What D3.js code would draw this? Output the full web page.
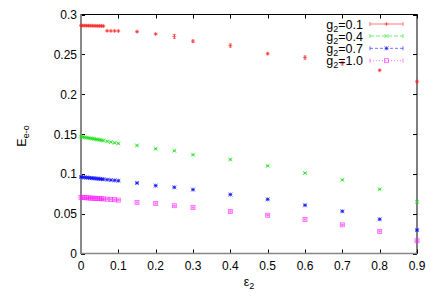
<!DOCTYPE html>
<html><head><meta charset="utf-8">
<script src="https://cdn.jsdelivr.net/npm/d3@7"></script>
<style>body{margin:0;background:#fff}svg{display:block}text{font-family:"Liberation Sans",Arial,sans-serif;}</style>
</head><body>
<script>
const eps = [0,0.005,0.01,0.015,0.02,0.025,0.03,0.035,0.04,0.045,0.05,0.055,0.06,0.07,0.08,0.09,0.1,0.15,0.2,0.25,0.3,0.4,0.5,0.6,0.7,0.8,0.9];
const g01 = [0.2862,0.2860,0.2861,0.2859,0.2860,0.2858,0.2859,0.2857,0.2858,0.2856,0.2857,0.2856,0.2855,0.2795,0.2794,0.2794,0.2793,0.2785,0.2755,0.2725,0.2665,0.2610,0.2508,0.2460,0.2385,0.2300,0.2158];
const g01err = [0.001,0.001,0.001,0.001,0.001,0.001,0.001,0.001,0.001,0.001,0.001,0.001,0.001,0.001,0.001,0.001,0.001,0.001,0.0008,0.0025,0.0015,0.002,0.0012,0.002,0.002,0.001,0.0015];
const g04 = [0.1466,0.1462,0.1458,0.1454,0.1450,0.1446,0.1442,0.1438,0.1434,0.1430,0.1426,0.1422,0.1418,0.1408,0.1398,0.1390,0.1382,0.1356,0.1315,0.1290,0.1240,0.1180,0.1100,0.1010,0.0925,0.0806,0.0648];
const g07 = [0.0960,0.0958,0.0955,0.0953,0.0951,0.0948,0.0946,0.0944,0.0941,0.0939,0.0937,0.0934,0.0932,0.0927,0.0922,0.0918,0.0913,0.0885,0.0852,0.0831,0.0802,0.0740,0.0680,0.0606,0.0530,0.0430,0.0294];
const g10 = [0.0704,0.0702,0.0701,0.0699,0.0698,0.0696,0.0695,0.0693,0.0692,0.0690,0.0689,0.0687,0.0686,0.0682,0.0679,0.0676,0.0670,0.0640,0.0627,0.0600,0.0577,0.0527,0.0480,0.0427,0.0360,0.0277,0.0160];
const smallErr = 0.0007;
const xTicks = [0,0.1,0.2,0.3,0.4,0.5,0.6,0.7,0.8,0.9];
const yTicks = [0,0.05,0.1,0.15,0.2,0.25,0.3];
const seriesNames = ["0.1","0.4","0.7","1.0"];
const seriesColors = ["#ff2020","#10e010","#1010ff","#ff20ff"];
const seriesVals = [g01,g04,g07,g10];
const seriesMarks = ["plus","cross","star","square"];
const seriesDash = [null,"4,2","3,2","1,2"];

const W=436,H=305;
const svg=d3.select("body").append("svg").attr("width",W).attr("height",H);
const x=d3.scaleLinear().domain([0,0.9]).range([81,417]);
const y=d3.scaleLinear().domain([0,0.3]).range([253.5,14.5]);

svg.append("rect").attr("x",81).attr("y",14.5).attr("width",336).attr("height",239)
  .attr("fill","none").attr("stroke","#000").attr("stroke-width",1);

const tl=4;
xTicks.forEach(t=>{
  const px=Math.round(x(t))+0.5;
  svg.append("line").attr("x1",px).attr("x2",px).attr("y1",253.5).attr("y2",253.5-tl).attr("stroke","#000");
  svg.append("line").attr("x1",px).attr("x2",px).attr("y1",14.5).attr("y2",14.5+tl).attr("stroke","#000");
  svg.append("text").attr("x",x(t)).attr("y",270).attr("text-anchor","middle").attr("font-size",12).text(d3.format("")(t));
});
yTicks.forEach(t=>{
  const py=Math.round(y(t))+0.5;
  svg.append("line").attr("x1",81).attr("x2",81+tl).attr("y1",py).attr("y2",py).attr("stroke","#000");
  svg.append("line").attr("x1",417).attr("x2",417-tl).attr("y1",py).attr("y2",py).attr("stroke","#000");
  svg.append("text").attr("x",77).attr("y",y(t)+4.5).attr("text-anchor","end").attr("font-size",12).text(d3.format("")(t));
});
svg.append("line").attr("x1",x(0)).attr("x2",x(0)).attr("y1",14.5).attr("y2",253.5).attr("stroke","#888").attr("stroke-width",2);
svg.append("line").attr("x1",81).attr("x2",417).attr("y1",y(0)).attr("y2",y(0)).attr("stroke","#888").attr("stroke-width",1.5);

function marker(g,type,cx,cy,color){
  const s=2;
  if(type==="plus"||type==="star"){
    g.append("line").attr("x1",cx-s).attr("x2",cx+s).attr("y1",cy).attr("y2",cy).attr("stroke",color);
    g.append("line").attr("x1",cx).attr("x2",cx).attr("y1",cy-s).attr("y2",cy+s).attr("stroke",color);
  }
  if(type==="cross"||type==="star"){
    g.append("line").attr("x1",cx-s).attr("x2",cx+s).attr("y1",cy-s).attr("y2",cy+s).attr("stroke",color);
    g.append("line").attr("x1",cx-s).attr("x2",cx+s).attr("y1",cy+s).attr("y2",cy-s).attr("stroke",color);
  }
  if(type==="square"){
    g.append("rect").attr("x",cx-2).attr("y",cy-2).attr("width",4).attr("height",4).attr("fill","none").attr("stroke",color);
  }
}

seriesVals.forEach((vals,si)=>{
  const g=svg.append("g").attr("stroke-width",0.8).attr("stroke-opacity",0.75);
  const c=seriesColors[si];
  vals.forEach((v,i)=>{
    const e = si===0 ? g01err[i] : smallErr;
    const cx=x(eps[i]), y1=y(v-e), y2=y(v+e);
    g.append("line").attr("x1",cx).attr("x2",cx).attr("y1",y1).attr("y2",y2).attr("stroke",c);
    g.append("line").attr("x1",cx-1.5).attr("x2",cx+1.5).attr("y1",y1).attr("y2",y1).attr("stroke",c);
    g.append("line").attr("x1",cx-1.5).attr("x2",cx+1.5).attr("y1",y2).attr("y2",y2).attr("stroke",c);
    marker(g,seriesMarks[si],cx,y(v),c);
  });
});

const legY=[24,36,48.3,60.7];
seriesNames.forEach((n,i)=>{
  const ly=legY[i];
  const t=svg.append("text").attr("x",363).attr("y",ly+4.5).attr("text-anchor","end").attr("font-size",12.5);
  t.append("tspan").text("g");
  t.append("tspan").attr("font-size",9).attr("dy",3).text("2");
  t.append("tspan").attr("dy",-3).text("="+n);
  const c=seriesColors[i];
  const lg=svg.append("g").attr("stroke-width",0.8).attr("stroke-opacity",0.75);
  const ln=lg.append("line").attr("x1",370).attr("x2",403).attr("y1",ly).attr("y2",ly).attr("stroke",c);
  if(seriesDash[i]) ln.attr("stroke-dasharray",seriesDash[i]);
  [370,403].forEach(ex=>lg.append("line").attr("x1",ex).attr("x2",ex).attr("y1",ly-2).attr("y2",ly+2).attr("stroke",c));
  marker(lg,seriesMarks[i],386.5,ly,c);
});

const yl=svg.append("text").attr("transform","translate(26,136) rotate(-90)").attr("text-anchor","middle").attr("font-size",12.5);
yl.append("tspan").text("E");
yl.append("tspan").attr("font-size",9).attr("dy",3).text("e-o");
const xl=svg.append("text").attr("x",249).attr("y",286).attr("text-anchor","middle").attr("font-size",12.5);
xl.append("tspan").text("ε");
xl.append("tspan").attr("font-size",9).attr("dy",3).text("2");
</script>
</body></html>
